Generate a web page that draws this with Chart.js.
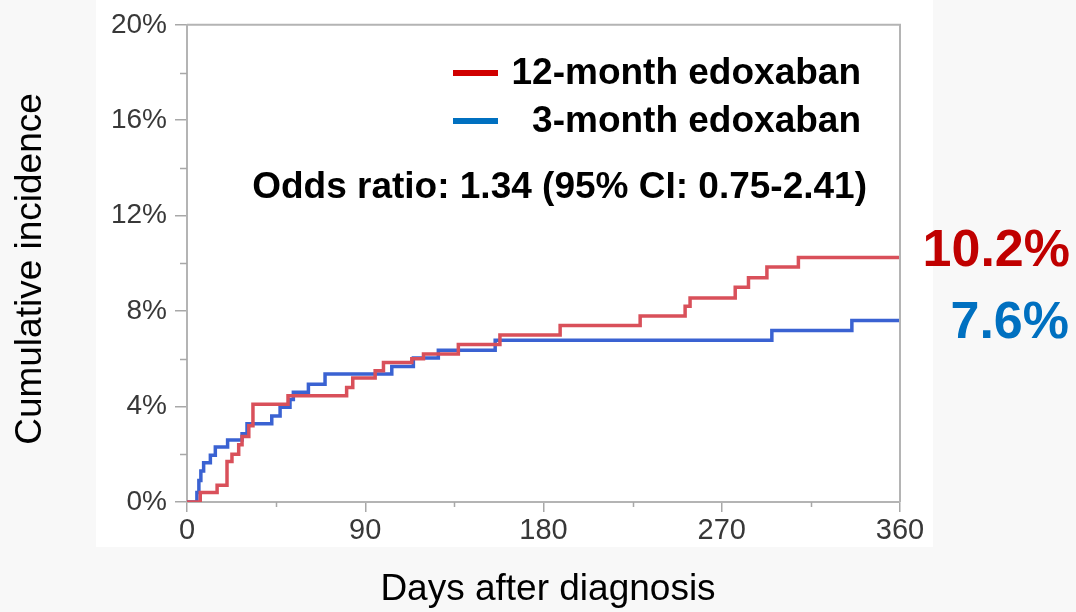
<!DOCTYPE html>
<html>
<head>
<meta charset="utf-8">
<script src="https://cdn.jsdelivr.net/npm/chart.js@4/dist/chart.umd.min.js"></script>
<style>
  html, body { margin: 0; padding: 0; background: #f8f8f8; }
  #wrap { width: 1076px; height: 612px; }
</style>
</head>
<body>
<div id="wrap"><canvas id="chart" width="1076" height="612"></canvas></div>
<script>
// days after diagnosis where a step happens, and the cumulative % after it
let redDays = [0, 6.7, 15.2, 20.2, 22.7, 26.1, 27.8, 31.2, 33.3, 51, 80.6, 83.7, 95, 99.2, 113.5, 119.4, 137, 158, 188.4, 228.8, 251.5, 254, 276.8, 283.5, 292.8, 308.7, 360];
let redPct  = [0, 0.4, 0.7, 1.7, 2.0, 2.4, 2.75, 3.2, 4.1, 4.45, 4.8, 5.2, 5.5, 5.85, 6.0, 6.2, 6.6, 7.0, 7.4, 7.8, 8.2, 8.55, 9.0, 9.4, 9.85, 10.25, 10.25];

let blueDays = [0, 5, 6, 7, 8.4, 11.8, 14.3, 20.5, 27.8, 30.3, 42.8, 47, 52, 53.7, 61.3, 69.7, 103.4, 114.3, 126.9, 155.6, 295.3, 335.7, 360];
let bluePct  = [0, 0.4, 0.9, 1.3, 1.65, 1.96, 2.3, 2.6, 2.86, 3.28, 3.6, 3.97, 4.3, 4.6, 4.94, 5.36, 5.68, 6.03, 6.36, 6.78, 7.19, 7.61, 7.61];

let seriesNames = ['12-month edoxaban', '3-month edoxaban'];
let endLabels = ['10.2%', '7.6%'];
let xTicks = [0, 90, 180, 270, 360];
let yTicks = [0, 4, 8, 12, 16, 20];

function toPoints(xs, ys) {
  return xs.map((x, i) => ({x: x, y: ys[i]}));
}

const FONT = '"Liberation Sans", Arial, sans-serif';

// background panel, plot frame, minor ticks and all the text around the plot
let decor = {
  id: 'decor',
  beforeDraw(chart) {
    let c = chart.ctx;
    c.save();
    c.fillStyle = '#f8f8f8';
    c.fillRect(0, 0, chart.width, chart.height);
    c.fillStyle = '#ffffff';
    c.fillRect(96, 0, 837, 547);
    c.restore();
  },
  afterDraw(chart) {
    let c = chart.ctx;
    let a = chart.chartArea;
    let xs = chart.scales.x, ys = chart.scales.y;
    c.save();

    // top and right side of the frame
    c.strokeStyle = '#b4b4b4';
    c.lineWidth = 2;
    c.beginPath();
    c.moveTo(a.left, a.top);
    c.lineTo(a.right, a.top);
    c.lineTo(a.right, a.bottom);
    c.stroke();

    // minor ticks
    c.strokeStyle = '#a8a8a8';
    c.lineWidth = 1.5;
    c.beginPath();
    for (let v = 2; v < 20; v += 4) {
      let y = Math.round(ys.getPixelForValue(v)) + 0.5;
      c.moveTo(a.left - 7, y);
      c.lineTo(a.left, y);
    }
    for (let v = 45; v < 360; v += 90) {
      let x = Math.round(xs.getPixelForValue(v)) + 0.5;
      c.moveTo(x, a.bottom);
      c.lineTo(x, a.bottom + 5);
    }
    c.stroke();

    // axis titles
    c.fillStyle = '#000';
    c.font = '37px ' + FONT;
    c.textAlign = 'center';
    c.textBaseline = 'middle';
    c.fillText('Days after diagnosis', 548, 590);
    c.save();
    c.translate(31, 269);
    c.rotate(-Math.PI / 2);
    c.fillText('Cumulative incidence', 0, 0);
    c.restore();

    // legend
    let legendCol = ['#d00000', '#0070c0'];
    let legendY = [73, 121];
    c.font = 'bold 37px ' + FONT;
    c.textAlign = 'right';
    for (let i = 0; i < 2; i++) {
      c.fillStyle = legendCol[i];
      c.fillRect(453, legendY[i] - 3, 45, 6);
      c.fillStyle = '#000';
      c.fillText(seriesNames[i], 861, legendY[i] + 1);
    }
    c.fillText('Odds ratio: 1.34 (95% CI: 0.75-2.41)', 867, 188);

    // end values
    c.font = 'bold 52px ' + FONT;
    c.fillStyle = '#c00000';
    c.fillText(endLabels[0], 1070, 252);
    c.fillStyle = '#0070c0';
    c.fillText(endLabels[1], 1069, 324);
    c.restore();
  }
};

new Chart(document.getElementById('chart'), {
  type: 'line',
  data: {
    datasets: [
      {
        label: seriesNames[0],
        data: toPoints(redDays, redPct),
        borderColor: '#d9505a',
        borderWidth: 3.5,
        stepped: 'before',
        pointRadius: 0,
        fill: false
      },
      {
        label: seriesNames[1],
        data: toPoints(blueDays, bluePct),
        borderColor: '#3a62d2',
        borderWidth: 3.5,
        stepped: 'before',
        pointRadius: 0,
        fill: false
      }
    ]
  },
  options: {
    responsive: false,
    animation: false,
    layout: { padding: { left: 0, top: 22, right: 176, bottom: 0 } },
    plugins: { legend: { display: false }, tooltip: { enabled: false } },
    scales: {
      x: {
        type: 'linear',
        min: 0,
        max: 360,
        afterBuildTicks: (s) => { s.ticks = xTicks.map(v => ({value: v})); },
        afterFit: (s) => { s.height = 110; },
        grid: { drawOnChartArea: false, drawTicks: true, tickLength: 10, color: '#a8a8a8', lineWidth: 1.5 },
        border: { display: true, color: '#b4b4b4', width: 2 },
        ticks: {
          color: '#383838',
          font: { family: FONT, size: 29 },
          padding: 2,
          maxRotation: 0,
          autoSkip: false
        }
      },
      y: {
        type: 'linear',
        min: 0,
        max: 20,
        afterBuildTicks: (s) => { s.ticks = yTicks.map(v => ({value: v})); },
        afterFit: (s) => { s.width = 187; },
        grid: { drawOnChartArea: false, drawTicks: true, tickLength: 12, color: '#a8a8a8', lineWidth: 1.5 },
        border: { display: true, color: '#b4b4b4', width: 2 },
        ticks: {
          color: '#383838',
          font: { family: FONT, size: 28 },
          padding: 8,
          callback: (v) => v + '%'
        }
      }
    }
  },
  plugins: [decor]
});
</script>
</body>
</html>
